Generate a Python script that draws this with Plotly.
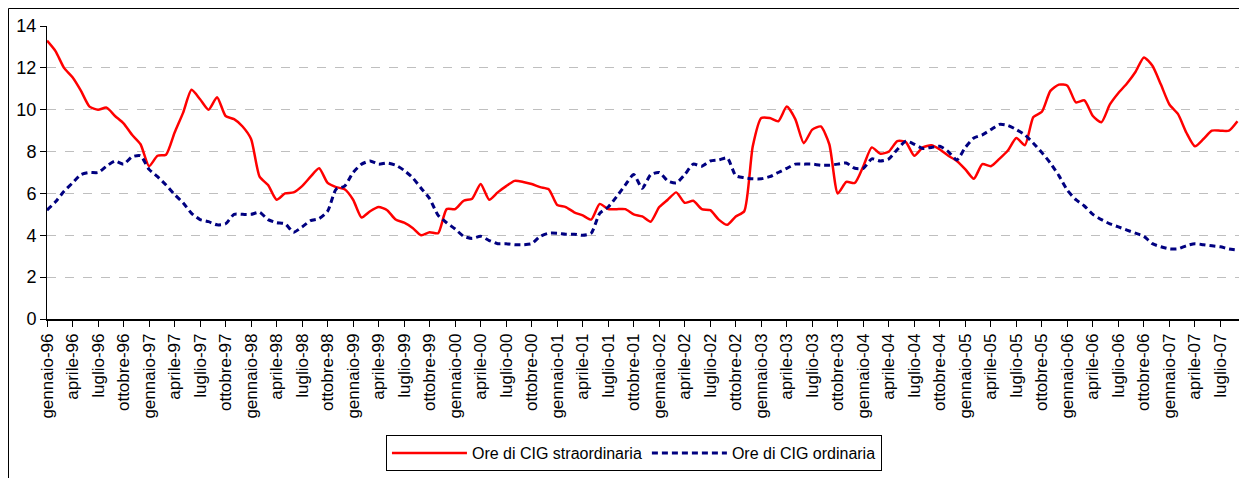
import plotly.graph_objects as go

mesi = ["gennaio", "febbraio", "marzo", "aprile", "maggio", "giugno",
        "luglio", "agosto", "settembre", "ottobre", "novembre", "dicembre"]
anni = ["96", "97", "98", "99", "00", "01", "02", "03", "04", "05", "06", "07"]
periodi = [f"{m}-{a}" for a in anni for m in mesi][:141]

cig_straordinaria = [
    13.3, 12.8, 12.0, 11.55, 10.9, 10.15, 10.0, 10.1, 9.7, 9.35, 8.8, 8.35,
    7.3, 7.8, 7.85, 8.9, 9.85, 10.95, 10.5, 10.0, 10.6, 9.7, 9.55, 9.2,
    8.6, 6.8, 6.4, 5.7, 6.0, 6.05, 6.35, 6.8, 7.2, 6.5, 6.3, 6.2,
    5.7, 4.85, 5.15, 5.35, 5.2, 4.75, 4.6, 4.35, 4.0, 4.15, 4.1, 5.25,
    5.25, 5.65, 5.75, 6.45, 5.7, 6.05, 6.35, 6.6, 6.55, 6.45, 6.3, 6.2,
    5.45, 5.35, 5.1, 4.95, 4.75, 5.5, 5.25, 5.25, 5.25, 5.0, 4.9, 4.65,
    5.35, 5.7, 6.05, 5.55, 5.65, 5.25, 5.2, 4.75, 4.5, 4.9, 5.15, 8.25,
    9.6, 9.6, 9.45, 10.15, 9.55, 8.4, 9.05, 9.2, 8.35, 6.0, 6.55, 6.5,
    7.3, 8.2, 7.9, 8.0, 8.5, 8.45, 7.8, 8.2, 8.3, 8.1, 7.8, 7.55,
    7.15, 6.7, 7.4, 7.3, 7.65, 8.05, 8.65, 8.3, 9.65, 9.9, 10.9, 11.2,
    11.15, 10.35, 10.45, 9.7, 9.4, 10.25, 10.8, 11.25, 11.8, 12.5, 12.1, 11.2,
    10.25, 9.8, 8.9, 8.25, 8.6, 9.0, 9.0, 9.0, 9.45,
]

cig_ordinaria = [
    5.2, 5.6, 6.1, 6.5, 6.9, 7.0, 7.0, 7.3, 7.55, 7.4, 7.75, 7.8,
    7.15, 6.8, 6.4, 5.95, 5.55, 5.05, 4.75, 4.65, 4.5, 4.55, 5.0, 5.0,
    5.0, 5.1, 4.75, 4.6, 4.55, 4.15, 4.4, 4.7, 4.8, 5.15, 6.2, 6.35,
    7.0, 7.4, 7.55, 7.4, 7.45, 7.35, 7.1, 6.75, 6.25, 5.75, 4.95, 4.6,
    4.3, 3.95, 3.85, 3.95, 3.75, 3.6, 3.6, 3.55, 3.55, 3.6, 3.95, 4.1,
    4.1, 4.05, 4.05, 4.0, 4.1, 5.05, 5.35, 5.85, 6.4, 6.9, 6.25, 6.9,
    7.0, 6.6, 6.5, 6.9, 7.4, 7.3, 7.55, 7.6, 7.7, 6.85, 6.75, 6.7,
    6.7, 6.8, 7.0, 7.2, 7.4, 7.4, 7.4, 7.35, 7.35, 7.4, 7.45, 7.2,
    7.2, 7.65, 7.55, 7.65, 8.1, 8.5, 8.35, 8.15, 8.2, 8.25, 8.0, 7.6,
    8.2, 8.65, 8.8, 9.05, 9.3, 9.25, 9.05, 8.8, 8.4, 7.95, 7.45, 6.85,
    6.15, 5.7, 5.4, 5.0, 4.75, 4.55, 4.4, 4.25, 4.1, 3.95, 3.6, 3.45,
    3.35, 3.35, 3.5, 3.6, 3.55, 3.5, 3.45, 3.35, 3.3,
]

idx = list(range(len(periodi)))
tick_idx = idx[::3]
tick_txt = periodi[::3]

FONT = "Arial, Liberation Sans, sans-serif"

# figure sits at an 8px page offset (default body margin)
W, H = 1239, 470
ML, MR, MT, MB = 39, 7, 18, 159
PW = W - ML - MR
PH = H - MT - MB

fig = go.Figure()
fig.add_trace(go.Scatter(
    x=idx, y=cig_straordinaria, mode="lines", name="Ore di CIG straordinaria",
    line=dict(color="#FF0000", width=2.5, shape="spline", smoothing=0.6),
    customdata=periodi, hovertemplate="%{customdata}: %{y}<extra></extra>",
))
fig.add_trace(go.Scatter(
    x=idx, y=cig_ordinaria, mode="lines", name="Ore di CIG ordinaria",
    line=dict(color="#000080", width=3, dash="6px,4px", shape="spline", smoothing=0.6),
    customdata=periodi, hovertemplate="%{customdata}: %{y}<extra></extra>",
))

fig.update_layout(
    width=W, height=H,
    margin=dict(l=ML, r=MR, t=MT, b=MB, pad=0),
    paper_bgcolor="white", plot_bgcolor="white",
    font=dict(family=FONT, color="black"),
    showlegend=True,
    legend=dict(
        orientation="h", x=0.492, xanchor="center", y=-0.396, yanchor="top",
        bordercolor="black", borderwidth=1, font=dict(size=16, family=FONT),
        tracegroupgap=0, itemwidth=75,
    ),
    xaxis=dict(
        range=[0, 140.3], tickmode="array", tickvals=tick_idx, ticktext=tick_txt,
        tickangle=-90, tickfont=dict(size=17, family=FONT),
        showline=True, linecolor="black", linewidth=1.5,
        ticks="outside", ticklen=6, tickcolor="black",
        showgrid=False, zeroline=False, automargin=False,
    ),
    yaxis=dict(
        range=[0, 14], tickmode="array", tickvals=list(range(0, 15, 2)),
        tickfont=dict(size=18, family=FONT),
        showline=True, linecolor="black", linewidth=1,
        ticks="outside", ticklen=6, tickcolor="black",
        showgrid=True, gridcolor="#BFBFBF", griddash="dash", gridwidth=1,
        zeroline=False, automargin=False,
    ),
    shapes=[
        dict(type="line", xref="paper", yref="paper",
             x0=-(ML - 0.5) / PW, x1=-(ML - 0.5) / PW, y0=-MB / PH, y1=1 + (MT - 0.5) / PH,
             line=dict(color="black", width=1)),
        dict(type="line", xref="paper", yref="paper",
             x0=-(ML - 0.5) / PW, x1=1 + MR / PW, y0=1 + (MT - 0.5) / PH, y1=1 + (MT - 0.5) / PH,
             line=dict(color="black", width=1)),
    ],
)

fig.write_html("out.html")
